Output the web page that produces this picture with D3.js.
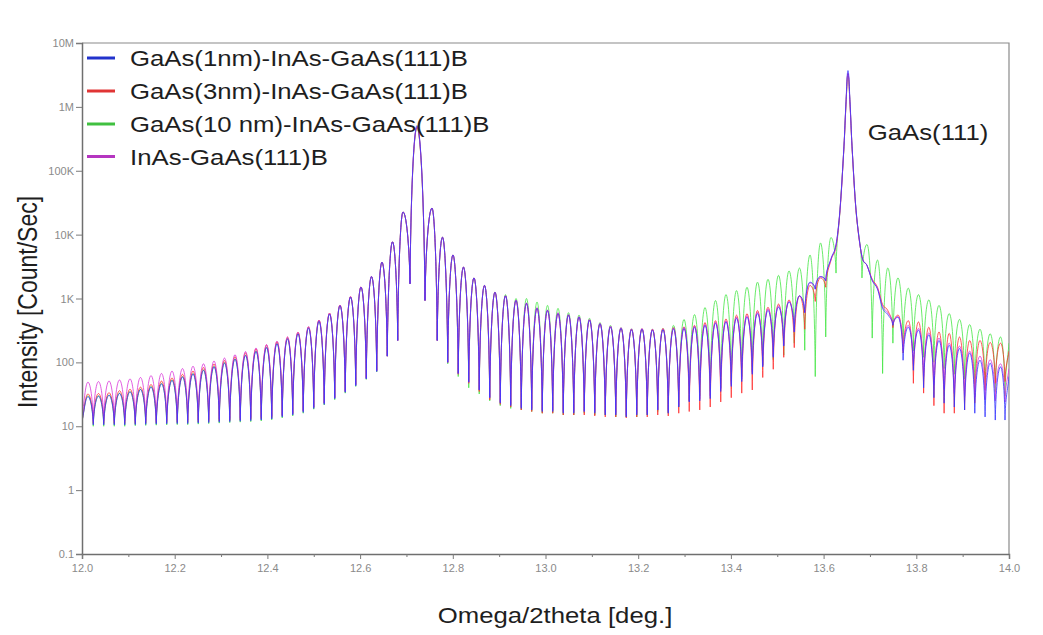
<!DOCTYPE html>
<html>
<head>
<meta charset="utf-8">
<script src="https://cdn.jsdelivr.net/npm/d3@7"></script>
<style>
  html, body { margin: 0; padding: 0; background: #fff; }
  svg { display: block; font-family: "Liberation Sans", Arial, sans-serif; }
</style>
</head>
<body>
<svg id="chart" width="1043" height="635"></svg>
<script>
// ---------------- DATA ----------------
// 2theta positions of fringe peaks / troughs and the two main reflections
const twoTheta = [
  // left of the InAs peak
  12.0000, 12.0129, 12.0243, 12.0356, 12.0469, 12.0583, 12.0696, 12.0809, 12.0922, 12.1036,
  12.1149, 12.1262, 12.1375, 12.1489, 12.1602, 12.1715, 12.1828, 12.1942, 12.2055, 12.2168,
  12.2281, 12.2395, 12.2508, 12.2621, 12.2734, 12.2848, 12.2961, 12.3074, 12.3188, 12.3301,
  12.3414, 12.3528, 12.3641, 12.3754, 12.3867, 12.3981, 12.4094, 12.4207, 12.4320, 12.4434,
  12.4547, 12.4660, 12.4773, 12.4887, 12.5000, 12.5113, 12.5226, 12.5340, 12.5453, 12.5566,
  12.5679, 12.5793, 12.5906, 12.6019, 12.6133, 12.6246, 12.6359, 12.6472, 12.6586, 12.6699,
  12.6812, 12.6926,
  // InAs main peak
  12.7077, 12.7228, 12.7400,
  // between InAs and GaAs
  12.7551, 12.7664, 12.7778, 12.7891, 12.8004, 12.8117, 12.8231, 12.8344, 12.8457, 12.8570,
  12.8684, 12.8797, 12.8910, 12.9024, 12.9137, 12.9250, 12.9364, 12.9477, 12.9590, 12.9703,
  12.9817, 12.9930, 13.0043, 13.0156, 13.0270, 13.0383, 13.0496, 13.0610, 13.0723, 13.0836,
  13.0949, 13.1063, 13.1176, 13.1289, 13.1402, 13.1516, 13.1629, 13.1742, 13.1855, 13.1969,
  13.2082, 13.2195, 13.2308, 13.2422, 13.2535, 13.2648, 13.2762, 13.2875, 13.2988, 13.3101,
  13.3215, 13.3328, 13.3441, 13.3554, 13.3668, 13.3781, 13.3894, 13.4008, 13.4121, 13.4234,
  13.4347, 13.4461, 13.4574, 13.4687, 13.4800, 13.4914, 13.5027, 13.5140, 13.5254, 13.5367,
  13.5480, 13.5593, 13.5707, 13.5820, 13.5933, 13.6046, 13.6160,
  // GaAs(111) substrate peak
  13.6268, 13.6354, 13.6440, 13.6483, 13.6526, 13.6570, 13.6613, 13.6699, 13.6828,
  // right of GaAs
  13.6936, 13.7049, 13.7163, 13.7273, 13.7385, 13.7495, 13.7605, 13.7715, 13.7827, 13.7937,
  13.8047, 13.8158, 13.8270, 13.8380, 13.8490, 13.8600, 13.8710, 13.8820, 13.8932, 13.9042,
  13.9152, 13.9262, 13.9374, 13.9484, 13.9594, 13.9704, 13.9817, 13.9914, 14.0000
];

// GaAs(1nm)-InAs-GaAs(111)B  (counts/s)
const gaas1nm = [
  12, 29, 10.5, 29.5, 10.5, 30.5, 10.5, 32.5, 10.5, 34.5, 10.6, 37.5, 10.7, 41, 10.8, 46, 10.9, 52, 11, 59,
  11, 66, 11.2, 75, 11.4, 85, 11.6, 97, 11.8, 112, 12, 128, 12.2, 148, 12.5, 170, 13, 196, 14, 232,
  15, 280, 16.5, 345, 19, 440, 22, 570, 27, 770, 34, 1050, 43, 1500, 55, 2200, 72, 3700, 125, 7700,
  220, 22600,
  1700, 510000, 930,
  26000, 220, 9100, 100, 4800, 67, 3100, 49, 2100, 37, 1600, 28, 1250, 23, 1100, 21, 930, 19, 840, 18,
  700, 17, 650, 17, 580, 16, 550, 16, 510, 17, 460, 16, 400, 15, 360, 15, 340, 14, 325, 15,
  330, 15, 320, 18, 325, 16, 335, 20, 340, 24, 355, 25, 380, 27, 410, 35, 430, 42, 490, 50,
  510, 65, 580, 85, 650, 120, 730, 180, 880, 300, 1100, 600, 1800, 1400, 2200, 1900, 4200,
  7000, 25000, 250000, 1200000, 3700000, 1200000, 250000, 25000, 4500,
  3300, 1900, 1400, 700, 560, 380, 510, 108, 355, 75, 320, 40, 270, 28, 220, 23, 185, 20, 165, 18,
  140, 16, 108, 14, 97, 12.5, 85, 12.5, 60
];

// GaAs(3nm)-InAs-GaAs(111)B
const gaas3nm = [
  12, 32, 11, 32.5, 11, 33.5, 11, 36, 11, 38, 11, 41, 11.2, 45, 11.3, 51, 11.4, 57, 11.5, 65,
  11.5, 73, 11.7, 83, 11.9, 94, 12.1, 107, 12.3, 123, 12.5, 141, 12.8, 163, 13.1, 187, 13.6, 212, 14.6, 248,
  15.7, 297, 17.2, 360, 19.8, 460, 23, 590, 28, 790, 35, 1070, 45, 1520, 57, 2200, 75, 3700, 125, 7700,
  220, 22600,
  1700, 480000, 930,
  26000, 220, 9100, 100, 4800, 65, 3100, 47, 2100, 35, 1600, 26, 1250, 22, 1100, 20, 930, 18, 840, 17,
  700, 16, 650, 16, 580, 15, 550, 15, 510, 15, 460, 14.5, 400, 14, 360, 14, 340, 13.5, 330, 14,
  335, 14, 330, 15, 340, 14.5, 350, 16, 360, 17, 380, 18, 420, 20, 450, 24, 480, 28, 550, 33,
  580, 37, 650, 58, 730, 78, 820, 120, 950, 170, 1100, 330, 1600, 900, 2100, 1500, 4000,
  6500, 24000, 240000, 1100000, 3300000, 1100000, 240000, 24000, 4500,
  3300, 2000, 1500, 800, 650, 350, 550, 140, 450, 47, 430, 33, 355, 21, 300, 16, 285, 16, 250, 18,
  220, 23, 220, 37, 205, 47, 200, 50, 150
];

// GaAs(10 nm)-InAs-GaAs(111)B
const gaas10nm = [
  12, 30, 10, 30, 10, 31, 10, 33, 10, 35, 10.2, 38, 10.3, 42, 10.4, 47, 10.5, 53, 10.6, 60,
  10.6, 67, 10.8, 76, 11, 87, 11.2, 99, 11.4, 114, 11.6, 130, 11.8, 151, 12.1, 173, 12.6, 200, 13.5, 236,
  14.5, 285, 16, 350, 18.5, 445, 21.5, 575, 26, 775, 33, 1050, 42, 1500, 54, 2200, 71, 3700, 125, 7700,
  220, 22600,
  1700, 470000, 930,
  26000, 220, 9100, 95, 4800, 60, 3100, 40, 2100, 32, 1600, 25, 1250, 21, 1150, 19, 1000, 18, 1000, 17,
  880, 16, 780, 16, 700, 15, 600, 15, 550, 16, 490, 15, 420, 15, 380, 14, 350, 14, 335, 14,
  335, 15, 330, 17, 340, 16, 380, 20, 470, 25, 560, 30, 720, 35, 930, 40, 1150, 50, 1330, 60,
  1500, 75, 1800, 90, 2000, 110, 2300, 130, 2700, 200, 3000, 155, 4800, 60, 7400, 250, 9000,
  2500, 24000, 240000, 1100000, 3200000, 1100000, 240000, 24000, 2100,
  7000, 240, 4000, 67, 3000, 200, 2100, 180, 1450, 150, 1150, 120, 950, 100, 780, 80, 580, 65, 470, 55,
  390, 45, 330, 40, 280, 35, 250, 30, 200
];

// InAs-GaAs(111)B
const inasOnly = [
  14, 49, 12, 50, 12, 51, 12, 53, 12, 55, 12, 58, 12, 62, 12, 67, 12.2, 73, 12.4, 80,
  12.5, 87, 12.6, 95, 12.8, 105, 13, 117, 13.2, 132, 13.4, 148, 13.6, 168, 14, 190, 14.5, 215, 15, 250,
  16, 297, 17.5, 362, 20, 460, 23, 590, 28, 790, 35, 1070, 44, 1520, 56, 2220, 73, 3700, 125, 7700,
  220, 22600,
  1700, 490000, 930,
  26000, 220, 9100, 100, 4800, 67, 3100, 49, 2100, 37, 1600, 28, 1250, 24, 1100, 22, 940, 20, 850, 19,
  720, 18, 660, 18, 600, 17, 560, 17, 520, 17, 470, 17, 410, 16, 370, 16, 350, 15, 335, 16,
  340, 16, 330, 18, 335, 17, 345, 21, 355, 25, 370, 27, 395, 30, 425, 38, 450, 45, 510, 55,
  540, 70, 610, 90, 690, 125, 770, 185, 900, 300, 1100, 600, 1750, 1400, 2200, 1900, 4100,
  6800, 24000, 240000, 1100000, 3400000, 1100000, 240000, 24000, 4500,
  3300, 1950, 1450, 750, 600, 400, 520, 150, 380, 90, 340, 60, 290, 45, 240, 38, 200, 33, 180, 30,
  150, 28, 125, 26, 110, 25, 95, 24, 80
];

const seriesNames = [
  "GaAs(1nm)-InAs-GaAs(111)B",
  "GaAs(3nm)-InAs-GaAs(111)B",
  "GaAs(10 nm)-InAs-GaAs(111)B",
  "InAs-GaAs(111)B"
];
const seriesValues = [gaas1nm, gaas3nm, gaas10nm, inasOnly];

const xTicks = [12.0, 12.2, 12.4, 12.6, 12.8, 13.0, 13.2, 13.4, 13.6, 13.8, 14.0];
const xTickLabels = ["12.0", "12.2", "12.4", "12.6", "12.8", "13.0", "13.2", "13.4", "13.6", "13.8", "14.0"];
const xMinorTicks = [12.1, 12.3, 12.5, 12.7, 12.9, 13.1, 13.3, 13.5, 13.7, 13.9];
const yTicks = [0.1, 1, 10, 100, 1e3, 1e4, 1e5, 1e6, 1e7];
const yTickLabels = ["0.1", "1", "10", "100", "1K", "10K", "100K", "1M", "10M"];
const peakLabel = { text: "GaAs(111)", x: 13.652 };

// ---------------- STYLE ----------------
const lineColors = ["#3535ff", "#ff3030", "#45e645", "#d935d9"];
const legendColors = ["#2233cc", "#e03535", "#40c040", "#b535c0"];
const drawOrder = [2, 1, 3, 0];   // green, red, magenta, blue on top
const stretch = 1.17;

seriesValues.forEach((s, i) => {
  if (s.length !== twoTheta.length) throw new Error("length mismatch in series " + i + ": " + s.length + " vs " + twoTheta.length);
});

// ---------------- CHART ----------------
const svg = d3.select("#chart");
const M = { left: 82, right: 1009, top: 43, bottom: 554 };

const x = d3.scaleLinear().domain([12, 14]).range([M.left, M.right]);
const y = d3.scaleLog().domain([0.1, 1e7]).range([M.bottom, M.top]);

// custom curve: rounded fringe maxima, sharp (cusp-like) minima as seen on log scale
function FringeCurve(context) { this._context = context; }
FringeCurve.prototype = {
  areaStart() {}, areaEnd() {},
  lineStart() { this._pts = []; },
  point(px, py) { this._pts.push([+px, +py]); },
  lineEnd() {
    const p = this._pts, n = p.length, c = this._context;
    if (!n) return;
    c.moveTo(p[0][0], p[0][1]);
    const type = p.map((q, i) => {
      if (i === 0 || i === n - 1) return "n";
      if (q[1] < p[i - 1][1] && q[1] < p[i + 1][1]) return "max";
      if (q[1] > p[i - 1][1] && q[1] > p[i + 1][1]) return "min";
      return "n";
    });
    const slope = p.map((q, i) => {
      const a = p[Math.max(0, i - 1)], b = p[Math.min(n - 1, i + 1)];
      return (b[1] - a[1]) / (b[0] - a[0]);
    });
    for (let i = 0; i < n - 1; i++) {
      const [x0, y0] = p[i], [x1, y1] = p[i + 1];
      const dx = x1 - x0, dy = y1 - y0;
      const lim = v => Math.sign(v) * Math.min(Math.abs(v), Math.abs(dy) * 0.9);
      let c1, c2;
      if (type[i] === "max") c1 = [x0 + dx * 0.45, y0];
      else if (type[i] === "min") c1 = [x0 + dx * 0.1, y0 + dy * 0.55];
      else c1 = [x0 + dx / 3, y0 + lim(slope[i] * dx / 3)];
      if (type[i + 1] === "max") c2 = [x1 - dx * 0.45, y1];
      else if (type[i + 1] === "min") c2 = [x1 - dx * 0.1, y1 - dy * 0.55];
      else c2 = [x1 - dx / 3, y1 - lim(slope[i + 1] * dx / 3)];
      c.bezierCurveTo(c1[0], c1[1], c2[0], c2[1], x1, y1);
    }
  }
};
const curveFringe = ctx => new FringeCurve(ctx);

svg.append("defs").append("clipPath").attr("id", "plotClip")
  .append("rect").attr("x", M.left).attr("y", M.top)
  .attr("width", M.right - M.left).attr("height", M.bottom - M.top);

// frame (top / right)
svg.append("path")
  .attr("d", `M${M.left},${M.top}H${M.right}V${M.bottom}`)
  .attr("fill", "none").attr("stroke", "#8a8a8a").attr("stroke-width", 1.2);

// curves
const line = d3.line()
  .x((d, i) => x(twoTheta[i]))
  .y(d => y(d))
  .curve(curveFringe);

const gCurves = svg.append("g").attr("clip-path", "url(#plotClip)");
drawOrder.forEach(k => {
  gCurves.append("path")
    .datum(seriesValues[k])
    .attr("d", line)
    .attr("fill", "none")
    .attr("stroke", lineColors[k])
    .attr("stroke-width", 1)
    .attr("stroke-opacity", 0.8)
    .attr("stroke-linejoin", "round");
});

// axes
const yAxis = d3.axisLeft(y).tickValues(yTicks)
  .tickFormat((d, i) => yTickLabels[i]).tickSize(6).tickPadding(2);
const gy = svg.append("g").attr("transform", `translate(${M.left},0)`).call(yAxis);

const xAxis = d3.axisBottom(x).tickValues(xTicks)
  .tickFormat((d, i) => xTickLabels[i]).tickSize(5).tickPadding(5);
const gx = svg.append("g").attr("transform", `translate(0,${M.bottom})`).call(xAxis);

const xAxisMinor = d3.axisBottom(x).tickValues(xMinorTicks).tickFormat("").tickSize(3);
const gxm = svg.append("g").attr("transform", `translate(0,${M.bottom})`).call(xAxisMinor);
gxm.select(".domain").remove();

[gx, gy, gxm].forEach(g => {
  g.select(".domain").attr("stroke", "#6f6f6f").attr("stroke-width", 1.5);
  g.selectAll(".tick line").attr("stroke", "#7a7a7a").attr("stroke-width", 1);
  g.selectAll(".tick text").attr("fill", "#8a8a8a").attr("font-size", 11)
    .attr("font-family", "'Liberation Sans', Arial, sans-serif");
});

// axis titles
svg.append("text")
  .attr("transform", `translate(37,302) rotate(-90) scale(1,${stretch})`)
  .attr("text-anchor", "middle")
  .attr("font-size", 23).attr("fill", "#1e1e1e")
  .text("Intensity [Count/Sec]");

svg.append("text")
  .attr("transform", `translate(555,623) scale(${stretch},1)`)
  .attr("text-anchor", "middle")
  .attr("font-size", 22).attr("fill", "#1e1e1e")
  .text("Omega/2theta [deg.]");

// peak annotation
svg.append("text")
  .attr("transform", `translate(${x(peakLabel.x) + 20},140) scale(${stretch},1)`)
  .attr("font-size", 22).attr("fill", "#1e1e1e")
  .text(peakLabel.text);

// legend
const legendRowY = [58, 91, 124, 156.5];
const gLeg = svg.append("g");
seriesNames.forEach((name, i) => {
  gLeg.append("line")
    .attr("x1", 87).attr("x2", 115)
    .attr("y1", legendRowY[i]).attr("y2", legendRowY[i])
    .attr("stroke", legendColors[i]).attr("stroke-width", 3);
  gLeg.append("text")
    .attr("transform", `translate(130,${legendRowY[i] + 8}) scale(${stretch},1)`)
    .attr("font-size", 22).attr("fill", "#1e1e1e")
    .text(name);
});
</script>
</body>
</html>
